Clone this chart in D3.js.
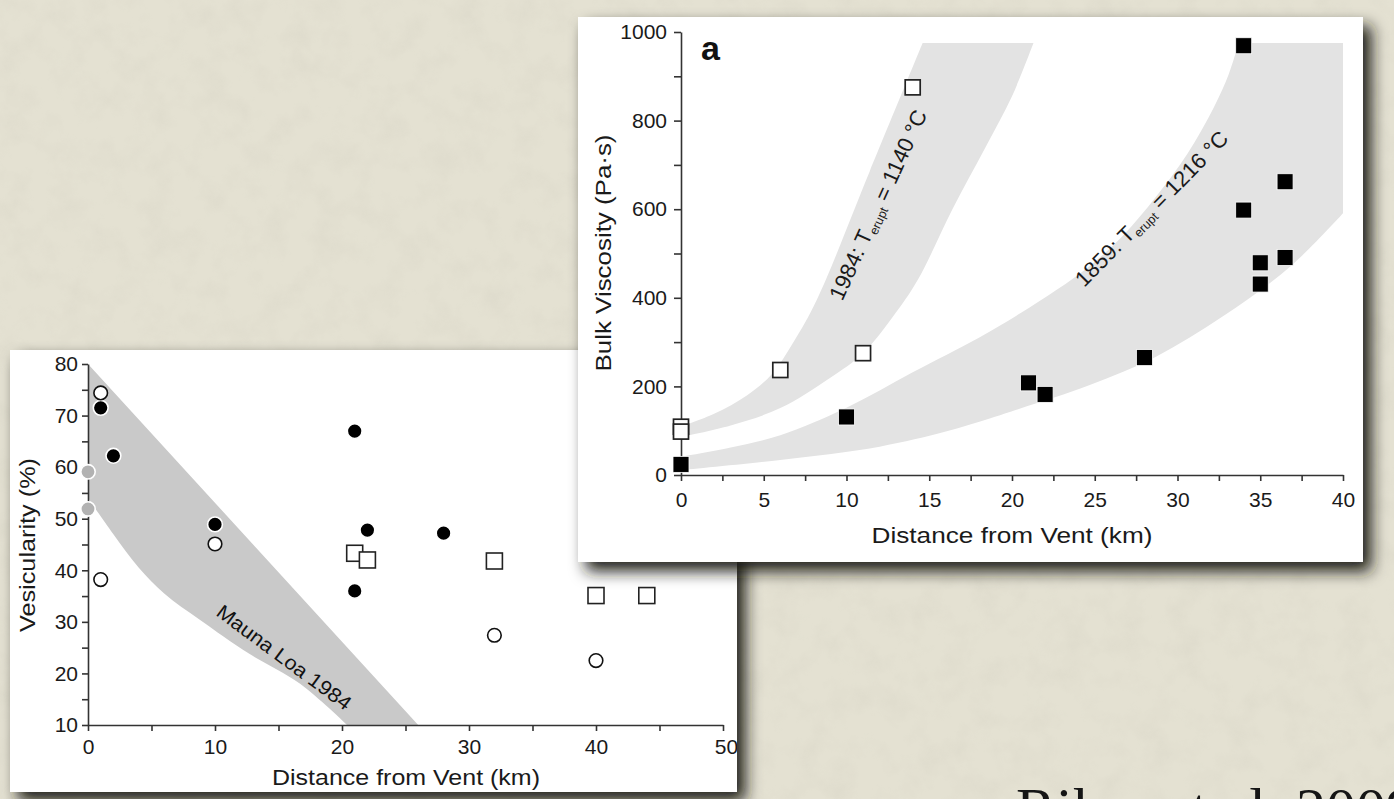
<!DOCTYPE html>
<html><head><meta charset="utf-8">
<script src="https://cdn.jsdelivr.net/npm/d3@7"></script>
<style>html,body{margin:0;padding:0;overflow:hidden;background:#e3e0d1}</style>
</head><body>
<svg id="c" width="1394" height="799" xmlns="http://www.w3.org/2000/svg"></svg>
<script>
// ---------- DATA: left panel (Vesicularity) ----------
const vesXTicks = [0, 10, 20, 30, 40, 50];
const vesYTicks = [10, 20, 30, 40, 50, 60, 70, 80];
const vesFilledCircles = [[1, 71.5], [2, 62.2], [10, 48.9], [21, 67], [22, 47.8], [21, 36], [28, 47.2]];
const vesOpenCircles = [[1, 74.4], [1, 38.2], [10, 45.1], [32, 27.4], [40, 22.5]];
const vesGrayCircles = [[0, 59.1], [0, 51.9]];
const vesOpenSquares = [[21, 43.3], [22, 42.0], [32, 41.8], [40, 35.1], [44, 35.1]];
const maunaLoaUpper = [[0, 80], [13, 45], [26, 10]];
const maunaLoaLower = [[0, 54], [2, 47], [4, 40.5], [6, 35.5], [8.8, 30.4], [12.7, 23.8], [16.7, 18], [20.4, 10]];

// ---------- DATA: right panel (Bulk viscosity) ----------
const viscXTicks = [0, 5, 10, 15, 20, 25, 30, 35, 40];
const viscYTicks = [0, 200, 400, 600, 800, 1000];
const visc1984 = [[0, 109], [0, 98], [6, 237], [11, 275], [14, 875]];
const visc1859 = [[0, 24], [10, 131], [21, 208], [22, 182], [28, 265], [34, 969], [34, 598], [35, 479], [35, 431], [36.5, 662], [36.5, 491]];
const band1984Upper = [[0, 109], [2, 138], [4, 180], [5.5, 228], [6.8, 300], [8.2, 395], [11.4, 685], [14.6, 975]];
const band1984Lower = [[0, 86], [3, 112], [6, 151], [9, 219], [11, 275], [12.8, 357], [14.3, 440], [16.4, 600], [18.4, 740], [20, 855], [21.3, 975]];
const band1859Upper = [[0, 41], [3, 62], [6, 90], [10, 152], [14, 232], [18, 310], [20.5, 365], [22.7, 418], [24.7, 472], [26.7, 540], [28.7, 628], [30.6, 725], [32.2, 830], [33.1, 905], [33.7, 975]];
const band1859Lower = [[0, 11], [6, 34], [12, 64], [16, 98], [18.7, 128], [20.5, 150], [24.7, 203], [28.7, 267], [32.7, 357], [36.8, 470], [40, 591]];
const bandTop = 975;

const svg = d3.select("#c");
const defs = svg.append("defs");

// paper texture
const tex = defs.append("filter").attr("id", "paper").attr("x", 0).attr("y", 0).attr("width", "100%").attr("height", "100%");
tex.append("feTurbulence").attr("type", "fractalNoise").attr("baseFrequency", "0.035").attr("numOctaves", 4).attr("seed", 7).attr("result", "n");
tex.append("feColorMatrix").attr("in", "n").attr("type", "matrix")
  .attr("values", "0 0 0 0 0.55  0 0 0 0 0.53  0 0 0 0 0.45  0.9 0 0 0 -0.38");
// drop shadow
const sh = defs.append("filter").attr("id", "shadow").attr("x", "-10%").attr("y", "-10%").attr("width", "130%").attr("height", "130%");
sh.append("feDropShadow").attr("dx", 8).attr("dy", 9).attr("stdDeviation", 8).attr("flood-color", "#1e1e18").attr("flood-opacity", 1);

svg.append("rect").attr("width", 1394).attr("height", 799).attr("fill", "#e4e1d2");
svg.append("rect").attr("width", 1394).attr("height", 799).attr("filter", "url(#paper)").attr("opacity", 0.35);

const FONT = "Liberation Sans, Arial, Helvetica, sans-serif";

// ================= LEFT PANEL =================
const L = {x: 10, y: 350, w: 727, h: 442};
svg.append("rect").attr("x", L.x).attr("y", L.y).attr("width", L.w).attr("height", L.h)
  .attr("fill", "#fff").attr("filter", "url(#shadow)");
defs.append("clipPath").attr("id", "clipL").append("rect")
  .attr("x", L.x).attr("y", L.y).attr("width", L.w).attr("height", L.h);
const gL = svg.append("g").attr("clip-path", "url(#clipL)");

const xL = d3.scaleLinear().domain([0, 50]).range([88, 723]);
const yL = d3.scaleLinear().domain([10, 80]).range([725, 364]);

const upL = d3.line().x(d => xL(d[0])).y(d => yL(d[1]))(maunaLoaUpper);
const loL = d3.line().curve(d3.curveCatmullRom.alpha(0.5)).x(d => xL(d[0])).y(d => yL(d[1]))(maunaLoaLower.slice().reverse());
gL.append("path").attr("d", upL + "L" + loL.slice(1) + "Z").attr("fill", "#c9c9c9");

gL.append("text").attr("font-family", FONT).attr("font-size", 20).attr("fill", "#111")
  .attr("text-anchor", "middle").attr("textLength", 162).attr("lengthAdjust", "spacingAndGlyphs")
  .attr("transform", "translate(280,663) rotate(36.5)").text("Mauna Loa 1984");

const axLx = gL.append("g").attr("transform", `translate(0,${yL(10)})`)
  .call(d3.axisBottom(xL).tickValues(d3.range(0, 51, 5)).tickSize(6).tickSizeOuter(0).tickPadding(8)
    .tickFormat(d => vesXTicks.includes(d) ? d : ""));
const axLy = gL.append("g").attr("transform", `translate(${xL(0)},0)`)
  .call(d3.axisLeft(yL).tickValues(d3.range(10, 81, 5)).tickSize(6).tickSizeOuter(0).tickPadding(4)
    .tickFormat(d => vesYTicks.includes(d) ? d : ""));
[axLx, axLy].forEach(a => {
  a.selectAll("path,line").attr("stroke", "#333").attr("stroke-width", 1.6);
  a.selectAll("text").attr("font-family", FONT).attr("font-size", 21).attr("fill", "#1a1a1a");
});
axLx.selectAll(".tick text").filter(d => d === 50).attr("dx", 3);

gL.append("text").attr("font-family", FONT).attr("font-size", 22).attr("fill", "#1a1a1a")
  .attr("text-anchor", "middle").attr("x", 406).attr("y", 785)
  .attr("textLength", 268).attr("lengthAdjust", "spacingAndGlyphs").text("Distance from Vent (km)");
gL.append("text").attr("font-family", FONT).attr("font-size", 22).attr("fill", "#1a1a1a")
  .attr("text-anchor", "middle").attr("transform", "translate(35,545) rotate(-90)")
  .attr("textLength", 174).attr("lengthAdjust", "spacingAndGlyphs").text("Vesicularity (%)");

gL.selectAll(".gc").data(vesGrayCircles).join("circle")
  .attr("cx", d => xL(d[0])).attr("cy", d => yL(d[1])).attr("r", 7.2)
  .attr("fill", "#b2b2b2").attr("stroke", "#fff").attr("stroke-width", 1.6);
gL.selectAll(".fc").data(vesFilledCircles).join("circle")
  .attr("cx", d => xL(d[0])).attr("cy", d => yL(d[1])).attr("r", 7.4)
  .attr("fill", "#000").attr("stroke", "#fff").attr("stroke-width", 1.6);
gL.selectAll(".oc").data(vesOpenCircles).join("circle")
  .attr("cx", d => xL(d[0])).attr("cy", d => yL(d[1])).attr("r", 6.8)
  .attr("fill", "#fff").attr("stroke", "#111").attr("stroke-width", 1.6);
gL.selectAll(".os").data(vesOpenSquares).join("rect")
  .attr("x", d => xL(d[0]) - 8).attr("y", d => yL(d[1]) - 8).attr("width", 16).attr("height", 16)
  .attr("fill", "#fff").attr("stroke", "#222").attr("stroke-width", 1.6);

// ================= RIGHT PANEL =================
const R = {x: 578, y: 17, w: 785, h: 545};
svg.append("rect").attr("x", R.x).attr("y", R.y).attr("width", R.w).attr("height", R.h)
  .attr("fill", "#fff").attr("filter", "url(#shadow)");
const gR = svg.append("g");

const xR = d3.scaleLinear().domain([0, 40]).range([681, 1343]);
const yR = d3.scaleLinear().domain([0, 1000]).range([475, 32]);

function bandPath(upper, lower, extra) {
  const cr = d3.line().curve(d3.curveCatmullRom.alpha(0.5)).x(d => xR(d[0])).y(d => yR(d[1]));
  let p = cr(upper);
  extra.forEach(e => { p += "L" + xR(e[0]) + "," + yR(e[1]); });
  p += "L" + cr(lower.slice().reverse()).slice(1) + "Z";
  return p;
}
gR.append("path").attr("d", bandPath(band1984Upper, band1984Lower, [])).attr("fill", "#e3e3e3");
gR.append("path").attr("d", bandPath(band1859Upper, band1859Lower, [[40, bandTop]])).attr("fill", "#e3e3e3");

const axRx = gR.append("g").attr("transform", `translate(0,${yR(0)})`)
  .call(d3.axisBottom(xR).tickValues(d3.range(0, 40.1, 2.5)).tickSize(6).tickSizeOuter(0).tickPadding(11)
    .tickFormat(d => viscXTicks.includes(d) ? d : ""));
const axRy = gR.append("g").attr("transform", `translate(${xR(0)},0)`)
  .call(d3.axisLeft(yR).tickValues(d3.range(0, 1001, 100)).tickSize(7).tickSizeOuter(0).tickPadding(7)
    .tickFormat(d => viscYTicks.includes(d) ? d : ""));
[axRx, axRy].forEach(a => {
  a.selectAll("path,line").attr("stroke", "#333").attr("stroke-width", 1.6);
  a.selectAll("text").attr("font-family", FONT).attr("font-size", 21).attr("fill", "#1a1a1a");
});

gR.append("text").attr("font-family", FONT).attr("font-size", 22).attr("fill", "#1a1a1a")
  .attr("text-anchor", "middle").attr("x", 1012).attr("y", 543)
  .attr("textLength", 281).attr("lengthAdjust", "spacingAndGlyphs").text("Distance from Vent (km)");
gR.append("text").attr("font-family", FONT).attr("font-size", 22).attr("fill", "#1a1a1a")
  .attr("text-anchor", "middle").attr("transform", "translate(611,253) rotate(-90)")
  .attr("textLength", 237).attr("lengthAdjust", "spacingAndGlyphs").text("Bulk Viscosity (Pa·s)");
gR.append("text").attr("font-family", FONT).attr("font-size", 34).attr("font-weight", "bold").attr("fill", "#111")
  .attr("x", 701).attr("y", 60).text("a");

function tempLabel(tr, year, temp) {
  const t = gR.append("text").attr("font-family", FONT).attr("font-size", 22).attr("fill", "#1a1a1a")
    .attr("text-anchor", "middle").attr("transform", tr);
  t.append("tspan").text(year + ": T");
  t.append("tspan").attr("font-size", 12.5).attr("dy", 4).text("erupt");
  t.append("tspan").attr("dy", -4).text(" = " + temp + " °C");
}
tempLabel("translate(885,208) rotate(-65.5)", "1984", "1140");
tempLabel("translate(1157,214) rotate(-45.5)", "1859", "1216");

gR.selectAll(".s59").data(visc1859).join("rect")
  .attr("x", d => xR(d[0]) - 8).attr("y", d => yR(d[1]) - 8).attr("width", 16).attr("height", 16)
  .attr("fill", "#000").attr("stroke", "#fff").attr("stroke-width", 0.8);
gR.selectAll(".s84").data(visc1984).join("rect")
  .attr("x", d => xR(d[0]) - 7.5).attr("y", d => yR(d[1]) - 7.5).attr("width", 15).attr("height", 15)
  .attr("fill", "#fff").attr("stroke", "#222").attr("stroke-width", 1.7);

// ================= citation =================
svg.append("text").attr("font-family", "Liberation Serif, Times New Roman, serif").attr("font-size", 60)
  .attr("fill", "#151515").attr("x", 1016).attr("y", 829).text("Riker et al. 2009");
</script>
</body></html>
